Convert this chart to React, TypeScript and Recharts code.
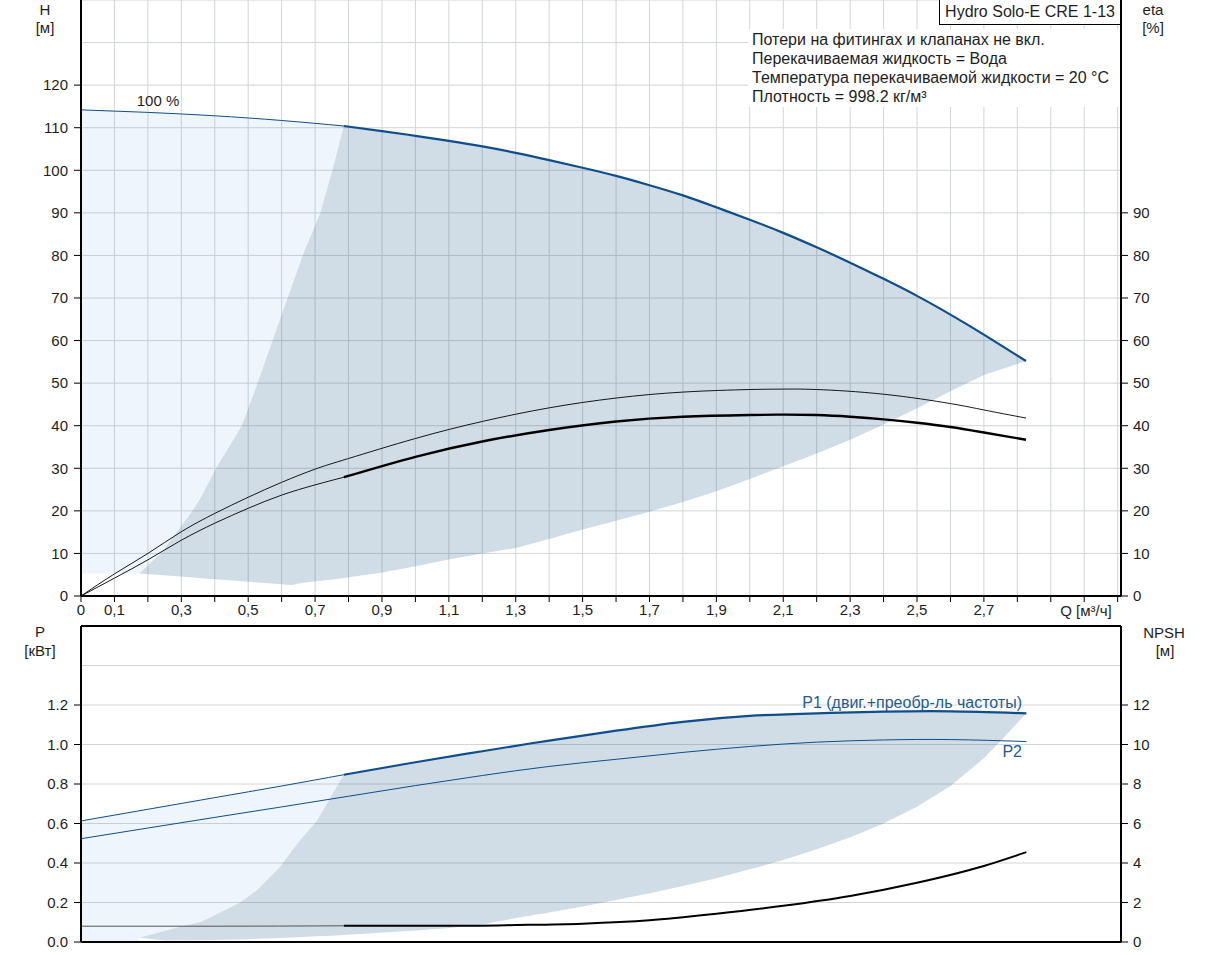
import React from 'react';
import { ComposedChart, Area, Line, XAxis, YAxis, CartesianGrid, ReferenceLine } from 'recharts';

const FONT = "'Liberation Sans', Arial, sans-serif";
const BLUE = '#0f4d8c';
const TXT = '#1e1e1e';

// axes
const qTicks = [0, 0.1, 0.2, 0.3, 0.4, 0.5, 0.6, 0.7, 0.8, 0.9, 1, 1.1, 1.2, 1.3, 1.4, 1.5, 1.6, 1.7, 1.8, 1.9, 2, 2.1, 2.2, 2.3, 2.4, 2.5, 2.6, 2.7, 2.8, 2.9, 3, 3.1];
const qLabelled = [0, 0.1, 0.3, 0.5, 0.7, 0.9, 1.1, 1.3, 1.5, 1.7, 1.9, 2.1, 2.3, 2.5, 2.7];
const hTicks = [0, 10, 20, 30, 40, 50, 60, 70, 80, 90, 100, 110, 120];
const hGrid = [0, 10, 20, 30, 40, 50, 60, 70, 80, 90, 100, 110, 120, 130, 140];
const etaTicks = [0, 10, 20, 30, 40, 50, 60, 70, 80, 90];
const pTicks = [0, 0.2, 0.4, 0.6, 0.8, 1.0, 1.2];
const pGrid = [0, 0.2, 0.4, 0.6, 0.8, 1.0, 1.2, 1.4, 1.6];
const npshTicks = [0, 2, 4, 6, 8, 10, 12];

// H curve (100 %)
const hThinQ = [0, 0.2, 0.4, 0.6, 0.786];
const hThinV = [114.2, 113.6, 112.8, 111.7, 110.4];
const hQ = [0.786, 0.9, 1.0, 1.1, 1.2, 1.3, 1.4, 1.5, 1.6, 1.7, 1.8, 1.9, 2.0, 2.1, 2.2, 2.3, 2.4, 2.5, 2.6, 2.7, 2.826];
const hV = [110.4, 109.2, 108.1, 106.9, 105.6, 104.1, 102.4, 100.6, 98.7, 96.5, 94.1, 91.3, 88.4, 85.3, 81.9, 78.3, 74.5, 70.5, 66.1, 61.4, 55.2];

// light region (top)
const lightTopQ = [0, 0.174, 0.239, 0.334, 0.36, 0.404, 0.481, 0.528, 0.573, 0.618, 0.663, 0.716, 0.752, 0.786];
const lightTopLow = [5.3, 5.3, 10, 20, 23.3, 30, 40, 50, 60, 70, 80, 90, 100, 110.4];
const lightTopHigh = [114.2, 113.7, 113.5, 113.1, 113.0, 112.8, 112.4, 112.1, 111.9, 111.6, 111.3, 111.0, 110.7, 110.4];

// dark region (top)
const darkTopQ = [0.174, 0.239, 0.334, 0.36, 0.404, 0.481, 0.528, 0.573, 0.618, 0.628, 0.663, 0.716, 0.752, 0.786, 0.9, 1.0, 1.1, 1.2, 1.3, 1.4, 1.5, 1.6, 1.7, 1.8, 1.9, 2.0, 2.1, 2.2, 2.3, 2.4, 2.5, 2.6, 2.7, 2.826];
const darkTopLow = [5.3, 4.91, 4.35, 4.19, 3.93, 3.47, 3.19, 2.93, 2.66, 2.6, 3.1, 3.6, 3.9, 4.2, 5.5, 7.0, 8.6, 10.0, 11.3, 13.4, 15.6, 17.7, 19.8, 22.1, 24.6, 27.5, 30.5, 33.5, 36.7, 40.3, 44.1, 48.1, 51.9, 55.2];
const darkTopHigh = [5.3, 10, 20, 23.3, 30, 40, 50, 60, 70, 72.2, 80, 90, 100, 110.4, 109.2, 108.1, 106.9, 105.6, 104.1, 102.4, 100.6, 98.7, 96.5, 94.1, 91.3, 88.4, 85.3, 81.9, 78.3, 74.5, 70.5, 66.1, 61.4, 55.2];

// eta curves
const etaAQ = [0, 0.1, 0.2, 0.3, 0.4, 0.5, 0.6, 0.7, 0.8, 1.0, 1.2, 1.4, 1.6, 1.8, 2.0, 2.1, 2.2, 2.4, 2.6, 2.7, 2.826];
const etaAV = [0, 5.2, 10, 15.1, 19.4, 23.2, 26.7, 29.8, 32.3, 37.0, 41.0, 44.2, 46.5, 47.9, 48.5, 48.6, 48.5, 47.4, 45.2, 43.7, 41.8];
const etaBThinQ = [0, 0.1, 0.2, 0.3, 0.4, 0.5, 0.6, 0.7, 0.786];
const etaBThinV = [0, 4.2, 8.5, 13.1, 17.1, 20.6, 23.7, 26.1, 27.9];
const etaBQ = [0.786, 1.0, 1.2, 1.4, 1.6, 1.8, 2.0, 2.1, 2.2, 2.3, 2.4, 2.5, 2.6, 2.7, 2.826];
const etaBV = [27.9, 32.7, 36.3, 39.0, 41.0, 42.1, 42.5, 42.6, 42.5, 42.1, 41.5, 40.7, 39.7, 38.4, 36.7];

// P1, P2
const p1ThinQ = [0, 0.2, 0.4, 0.6, 0.786];
const p1ThinV = [0.613, 0.672, 0.731, 0.79, 0.847];
const p1Q = [0.786, 1.0, 1.2, 1.4, 1.6, 1.8, 2.0, 2.2, 2.4, 2.6, 2.827];
const p1V = [0.847, 0.91, 0.966, 1.02, 1.07, 1.115, 1.145, 1.158, 1.166, 1.168, 1.158];
const p2Q = [0, 0.2, 0.4, 0.6, 0.8, 1.0, 1.2, 1.4, 1.6, 1.8, 2.0, 2.2, 2.4, 2.6, 2.827];
const p2V = [0.523, 0.577, 0.631, 0.684, 0.738, 0.792, 0.843, 0.889, 0.925, 0.96, 0.99, 1.012, 1.023, 1.025, 1.015];

// NPSH
const npshThinQ = [0, 0.4, 0.786];
const npshThinV = [0.8, 0.8, 0.82];
const npshQ = [0.786, 1.1, 1.3, 1.5, 1.7, 1.9, 2.1, 2.3, 2.5, 2.7, 2.827];
const npshV = [0.82, 0.82, 0.86, 0.93, 1.1, 1.43, 1.83, 2.33, 3.0, 3.85, 4.55];

// bottom light region
const lightBotQ = [0, 0.172, 0.174, 0.3, 0.356, 0.4, 0.476, 0.528, 0.595, 0.648, 0.707, 0.747, 0.786];
const lightBotLow = [0, 0, 0.022, 0.079, 0.1, 0.136, 0.2, 0.264, 0.38, 0.5, 0.617, 0.734, 0.847];
const lightBotHigh = [0.613, 0.664, 0.665, 0.702, 0.718, 0.731, 0.753, 0.769, 0.789, 0.805, 0.823, 0.835, 0.847];

// bottom dark region
const darkBotQ = [0.174, 0.25, 0.3, 0.356, 0.4, 0.476, 0.528, 0.595, 0.648, 0.707, 0.747, 0.786, 1.0, 1.104, 1.2, 1.3, 1.4, 1.5, 1.6, 1.7, 1.8, 1.9, 2.0, 2.1, 2.2, 2.3, 2.4, 2.5, 2.6, 2.7, 2.74, 2.827];
const darkBotLow = [0.022, 0.008, 0.008, 0.009, 0.01, 0.013, 0.016, 0.02, 0.024, 0.029, 0.032, 0.035, 0.058, 0.071, 0.088, 0.121, 0.15, 0.18, 0.213, 0.247, 0.284, 0.323, 0.368, 0.415, 0.47, 0.53, 0.6, 0.685, 0.79, 0.93, 1.0, 1.158];
const darkBotHigh = [0.022, 0.056, 0.079, 0.1, 0.136, 0.2, 0.264, 0.38, 0.5, 0.617, 0.734, 0.847, 0.91, 0.94, 0.966, 0.993, 1.02, 1.045, 1.07, 1.093, 1.115, 1.131, 1.145, 1.152, 1.158, 1.162, 1.166, 1.167, 1.168, 1.164, 1.163, 1.158];

const pts = (q: number[], v: number[]) => q.map((x, i) => ({ q: x, v: v[i] }));
const rng = (q: number[], lo: number[], hi: number[]) => q.map((x, i) => ({ q: x, r: [lo[i], hi[i]] }));

const XTick = (props: any) => {
  const { x, y, payload } = props;
  const v = payload.value;
  if (!qLabelled.some((l) => Math.abs(l - v) < 1e-6)) return null;
  const label = v === 0 ? '0' : v.toFixed(1).replace('.', ',');
  return (
    <text x={x} y={y} dy="0.71em" textAnchor="middle" fill={TXT} fontSize={15} fontFamily={FONT}>
      {label}
    </text>
  );
};

const tickStyle = { fill: TXT, fontSize: 15, fontFamily: FONT };
const axisBlack = { stroke: '#000', strokeWidth: 2 };
const GRID = '#d2d6d6';
const LIGHT_FILL = '#2b82d9';
const LIGHT_OP = 0.08;
const DARK_FILL = '#145082';
const DARK_OP = 0.2;

const Txt = ({ x, y, children, anchor = 'middle', color = TXT, size = 15 }: any) => {
  const style: any = {
    position: 'absolute',
    top: y - 9,
    lineHeight: '18px',
    fontSize: size,
    fontFamily: FONT,
    color,
    whiteSpace: 'nowrap',
  };
  if (anchor === 'middle') {
    style.left = x;
    style.transform = 'translateX(-50%)';
  } else if (anchor === 'end') {
    style.right = 1209 - x;
  } else {
    style.left = x;
  }
  return <div style={style}>{children}</div>;
};

export default function App() {
  return (
    <div style={{ position: 'absolute', left: 0, top: 0, width: 1209, height: 955, background: '#fff', overflow: 'hidden' }}>
      <div style={{ position: 'absolute', left: 0, top: 0 }}>
        <ComposedChart width={1209} height={626} margin={{ top: 0, right: 0, bottom: 0, left: 0 }}>
          <XAxis
            type="number"
            dataKey="q"
            domain={[0, 3.11]}
            ticks={qTicks}
            interval={0}
            allowDataOverflow
            tick={<XTick />}
            tickSize={6}
            tickMargin={2}
            tickLine={{ stroke: '#000' }}
            axisLine={axisBlack}
            height={30}
          />
          <YAxis
            yAxisId="h"
            type="number"
            domain={[0, 140]}
            ticks={hTicks}
            interval={0}
            allowDataOverflow
            width={81}
            tick={tickStyle}
            tickSize={7}
            tickMargin={6}
            tickLine={{ stroke: '#000' }}
            axisLine={axisBlack}
          />
          <YAxis
            yAxisId="eta"
            orientation="right"
            type="number"
            domain={[0, 140]}
            ticks={etaTicks}
            interval={0}
            allowDataOverflow
            width={88}
            tick={{ ...tickStyle, textAnchor: 'start' }}
            tickSize={7}
            tickMargin={5}
            tickLine={{ stroke: '#000' }}
            axisLine={axisBlack}
          />
          <CartesianGrid yAxisId="h" horizontalValues={hGrid} verticalValues={qTicks} stroke={GRID} />
          <Area yAxisId="h" data={rng(lightTopQ, lightTopLow, lightTopHigh)} dataKey="r" type="linear" stroke="none" fill={LIGHT_FILL} fillOpacity={LIGHT_OP} isAnimationActive={false} />
          <Area yAxisId="h" data={rng(darkTopQ, darkTopLow, darkTopHigh)} dataKey="r" type="linear" stroke="none" fill={DARK_FILL} fillOpacity={DARK_OP} isAnimationActive={false} />
          <Line yAxisId="h" data={pts(hThinQ, hThinV)} dataKey="v" type="natural" stroke={BLUE} strokeWidth={1} dot={false} isAnimationActive={false} />
          <Line yAxisId="h" data={pts(hQ, hV)} dataKey="v" type="natural" stroke={BLUE} strokeWidth={2.2} dot={false} isAnimationActive={false} />
          <Line yAxisId="eta" data={pts(etaAQ, etaAV)} dataKey="v" type="natural" stroke="#000" strokeWidth={0.9} dot={false} isAnimationActive={false} />
          <Line yAxisId="eta" data={pts(etaBThinQ, etaBThinV)} dataKey="v" type="natural" stroke="#000" strokeWidth={0.9} dot={false} isAnimationActive={false} />
          <Line yAxisId="eta" data={pts(etaBQ, etaBV)} dataKey="v" type="natural" stroke="#000" strokeWidth={2.4} dot={false} isAnimationActive={false} />
        </ComposedChart>
      </div>

      <div style={{ position: 'absolute', left: 0, top: 620 }}>
        <ComposedChart width={1209} height={335} margin={{ top: 6, right: 0, bottom: 0, left: 0 }}>
          <XAxis
            type="number"
            dataKey="q"
            domain={[0, 3.11]}
            ticks={qTicks}
            interval={0}
            allowDataOverflow
            tick={false}
            tickLine={false}
            axisLine={axisBlack}
            height={13}
          />
          <YAxis
            yAxisId="p"
            type="number"
            domain={[0, 1.6]}
            ticks={pTicks}
            interval={0}
            allowDataOverflow
            width={81}
            tick={tickStyle}
            tickFormatter={(v: number) => v.toFixed(1)}
            tickSize={7}
            tickMargin={6}
            tickLine={{ stroke: '#000' }}
            axisLine={axisBlack}
          />
          <YAxis
            yAxisId="npsh"
            orientation="right"
            type="number"
            domain={[0, 16]}
            ticks={npshTicks}
            interval={0}
            allowDataOverflow
            width={88}
            tick={{ ...tickStyle, textAnchor: 'start' }}
            tickSize={7}
            tickMargin={5}
            tickLine={{ stroke: '#000' }}
            axisLine={axisBlack}
          />
          <CartesianGrid yAxisId="p" horizontalValues={pGrid} verticalValues={qTicks} stroke={GRID} />
          <Area yAxisId="p" data={rng(lightBotQ, lightBotLow, lightBotHigh)} dataKey="r" type="linear" stroke="none" fill={LIGHT_FILL} fillOpacity={LIGHT_OP} isAnimationActive={false} />
          <Area yAxisId="p" data={rng(darkBotQ, darkBotLow, darkBotHigh)} dataKey="r" type="linear" stroke="none" fill={DARK_FILL} fillOpacity={DARK_OP} isAnimationActive={false} />
          <ReferenceLine yAxisId="p" y={1.6} stroke="#000" strokeWidth={2} />
          <Line yAxisId="p" data={pts(p2Q, p2V)} dataKey="v" type="natural" stroke={BLUE} strokeWidth={1} dot={false} isAnimationActive={false} />
          <Line yAxisId="p" data={pts(p1ThinQ, p1ThinV)} dataKey="v" type="natural" stroke={BLUE} strokeWidth={1} dot={false} isAnimationActive={false} />
          <Line yAxisId="p" data={pts(p1Q, p1V)} dataKey="v" type="natural" stroke={BLUE} strokeWidth={2.2} dot={false} isAnimationActive={false} />
          <Line yAxisId="npsh" data={pts(npshThinQ, npshThinV)} dataKey="v" type="monotone" stroke="#555" strokeWidth={1} dot={false} isAnimationActive={false} />
          <Line yAxisId="npsh" data={pts(npshQ, npshV)} dataKey="v" type="monotone" stroke="#000" strokeWidth={2} dot={false} isAnimationActive={false} />
        </ComposedChart>
      </div>

      {/* axis titles */}
      <Txt x={45} y={10}>H</Txt>
      <Txt x={45} y={28}>[м]</Txt>
      <Txt x={1153} y={10}>eta</Txt>
      <Txt x={1153} y={28}>[%]</Txt>
      <Txt x={40} y={632}>P</Txt>
      <Txt x={40} y={651}>[кВт]</Txt>
      <Txt x={1164} y={633}>NPSH</Txt>
      <Txt x={1165} y={651}>[м]</Txt>
      <Txt x={1086} y={611}>Q [м³/ч]</Txt>

      {/* curve labels */}
      <Txt x={158} y={101}>100 %</Txt>
      <Txt x={1022} y={703} anchor="end" color="#1f5a96" size={16}>P1 (двиг.+преобр-ль частоты)</Txt>
      <Txt x={1022} y={752} anchor="end" color="#1f5a96" size={16}>P2</Txt>

      {/* info block */}
      <div style={{ position: 'absolute', left: 748, top: 29, width: 372, height: 78, background: '#fff' }}>
        <div style={{ paddingTop: 1, paddingLeft: 4, fontFamily: FONT, fontSize: 16, lineHeight: '19px', color: TXT, whiteSpace: 'nowrap' }}>
          <div>Потери на фитингах и клапанах не вкл.</div>
          <div>Перекачиваемая жидкость = Вода</div>
          <div>Температура перекачиваемой жидкости = 20 °C</div>
          <div>Плотность = 998.2 кг/м³</div>
        </div>
      </div>
      <div
        style={{
          position: 'absolute',
          left: 939,
          top: -1,
          width: 180,
          height: 24,
          border: '1px solid #000',
          background: '#fff',
          fontFamily: FONT,
          fontSize: 16,
          lineHeight: '24px',
          textAlign: 'center',
          color: TXT,
          whiteSpace: 'nowrap',
        }}
      >
        Hydro Solo-E CRE 1-13
      </div>
    </div>
  );
}
